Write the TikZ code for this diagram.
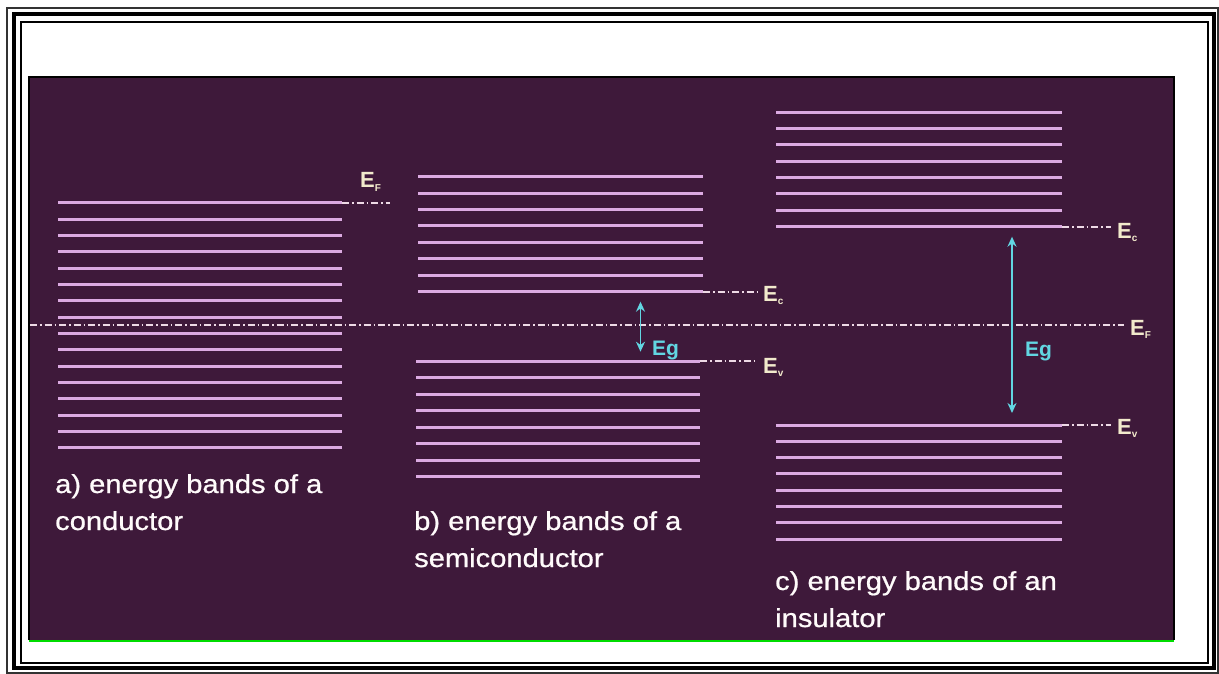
\documentclass[tikz,border=0pt]{standalone}
\usepackage{fontspec}
\setmainfont{Liberation Sans}
\newfontfamily\capfont[FakeStretch=1.12,FakeBold=0.8]{Liberation Sans}
\usepackage{xcolor}
\usepackage{tikz}
\usetikzlibrary{arrows.meta, positioning}
\definecolor{bgpurple}{RGB}{62,25,58}
\definecolor{bandline}{RGB}{220,170,226}
\definecolor{levelline}{RGB}{238,218,230}
\definecolor{labeltext}{RGB}{242,234,204}
\definecolor{gapcyan}{RGB}{98,214,226}
\definecolor{framegreen}{RGB}{0,220,0}
\tikzstyle{band} = [line width=3pt, bandline]
\tikzstyle{level} = [line width=2pt, levelline, dash pattern=on 7pt off 3pt on 1.5pt off 3pt]
\tikzstyle{elabel} = [anchor=base west, inner sep=0pt, text=labeltext, font=\fontsize{22}{22}\selectfont\bfseries]
\tikzstyle{gaplabel} = [anchor=base west, inner sep=0pt, text=gapcyan, font=\fontsize{21}{21}\selectfont\bfseries]
\tikzstyle{gap} = [line width=1.6pt, gapcyan, {Stealth[length=10pt,width=9pt]}-{Stealth[length=10pt,width=9pt]}]
\tikzstyle{caption} = [anchor=base west, inner sep=0pt, align=left, text=white!94!pink, font=\capfont\fontsize{26}{37}\selectfont]
\newcommand{\sub}[1]{\raisebox{-3.5pt}{\fontsize{10}{10}\selectfont #1}}

\begin{document}
\begin{tikzpicture}[x=1pt,y=-1pt]
	\useasboundingbox (0,0) rectangle (1219,674);
	\fill[white] (0,0) rectangle (1219,674);
	
	% Frame:
	% Outer thin line, thick line and inner thin line
	\draw[line width=1.2pt, black!80] (7,8) rectangle (1218,673);
	\draw[line width=4pt] (14,14) rectangle (1214,668);
	\draw[line width=1.5pt] (21,22) rectangle (1208,663);
	
	% Panel:
	\fill[bgpurple] (29,77) rectangle (1174,640);
	\draw[line width=2pt] (29,640) -- (29,77) -- (1174,77) -- (1174,640);
	\draw[line width=2pt, framegreen] (29,641) -- (1174,641);
	
	\begin{scope}[font=\small]
		
		% Bands:
		% a) conductor, one wide band
		\foreach \n in {0,...,15}
		{
			\draw[band] (58,203+\n*16.33) -- (342,203+\n*16.33);
		}
		% b) semiconductor, valence and conduction band
		\foreach \n in {0,...,7}
		{
			\draw[band] (418,176.7+\n*16.43) -- (703,176.7+\n*16.43);
			\draw[band] (416,361+\n*16.57) -- (700,361+\n*16.57);
		}
		% c) insulator, wide gap
		\foreach \n in {0,...,7}
		{
			\draw[band] (776,112.3+\n*16.34) -- (1062,112.3+\n*16.34);
			\draw[band] (776,425+\n*16.3) -- (1062,425+\n*16.3);
		}
		
		% Band edges:
		\coordinate (endA) at (342,203);
		\coordinate (tipA) at (390,203);
		\coordinate (ecB) at (703,291.7);
		\coordinate (evB) at (700,361);
		\coordinate (ecC) at (1062,226.7);
		\coordinate (evC) at (1062,425);
		\coordinate (fermiL) at (30,325);
		
		% Level labels:
		\node[elabel] (efAlab) at (360,188) {E\sub{F}};
		\node[elabel] (ecBlab) at (763,301) {E\sub{c}};
		\node[elabel] (evBlab) at (763,373) {E\sub{v}};
		\node[elabel] (ecClab) at (1117,238) {E\sub{c}};
		\node[elabel] (efClab) at (1130,335) {E\sub{F}};
		\node[elabel] (evClab) at (1117,434) {E\sub{v}};
		
		% Levels:
		\draw[level] (endA) -- (tipA);
		\draw[level] (ecB) -- ([xshift=-5pt]ecBlab.west |- ecB);
		\draw[level] (evB) -- ([xshift=-5pt]evBlab.west |- evB);
		\draw[level] (ecC) -- ([xshift=-6pt]ecClab.west |- ecC);
		\draw[level] (evC) -- ([xshift=-6pt]evClab.west |- evC);
		\draw[level] (fermiL) -- ([xshift=-6pt]efClab.west |- fermiL);
		
		% Gaps:
		\coordinate (gapBtop) at (640.5,301.7);
		\coordinate (gapBbot) at (640.5,351.7);
		\coordinate (gapCtop) at (1012,236.7);
		\coordinate (gapCbot) at (1012,413);
		\draw[gap] (gapBtop) -- (gapBbot);
		\draw[gap] (gapCtop) -- (gapCbot);
		\node[gaplabel] (egB) at (652,355) {Eg};
		\node[gaplabel] (egC) at (1025,356) {Eg};
		
		% Captions:
		\node[caption] (capA) at (55,530) {a) energy bands of a\\conductor};
		\node[caption] (capB) at (414,567) {b) energy bands of a\\semiconductor};
		\node[caption] (capC) at (775,627) {c) energy bands of an\\insulator};
		
	\end{scope}
	
\end{tikzpicture}
\end{document}
